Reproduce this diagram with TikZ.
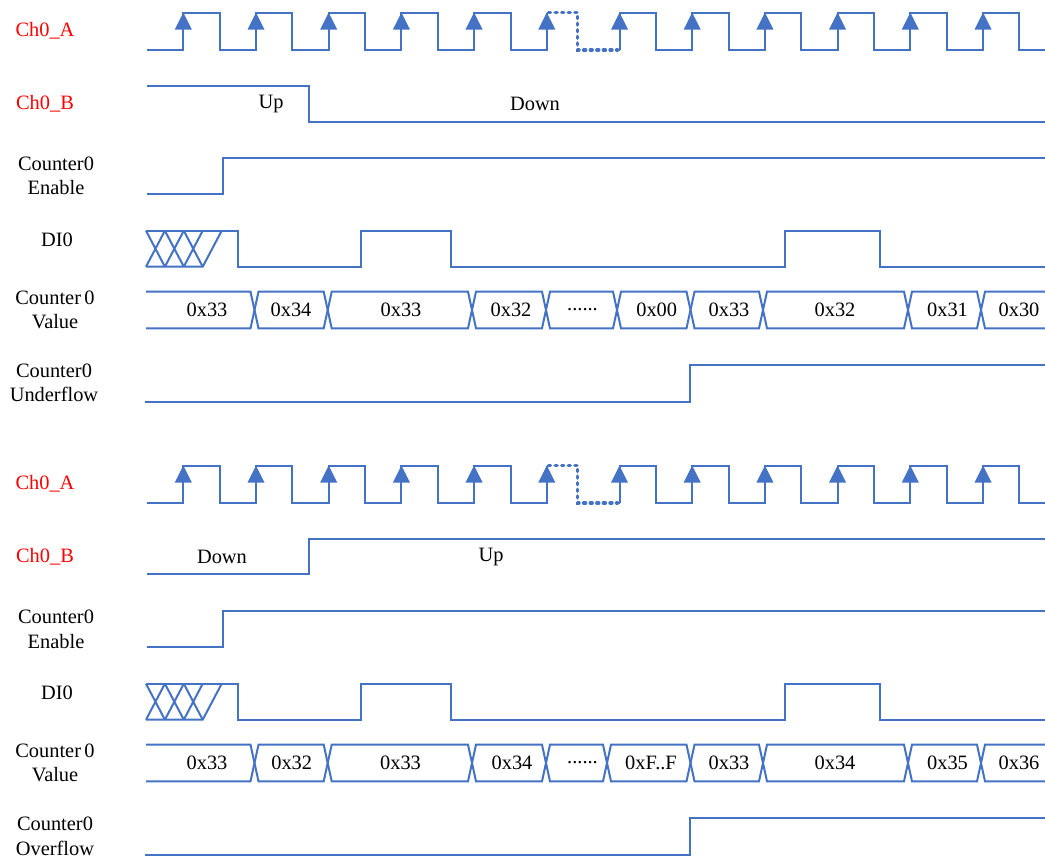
\documentclass[tikz,border=0pt]{standalone}
\usepackage{fontspec}
\setmainfont{Liberation Serif}
\definecolor{wave}{HTML}{4472C4}
\definecolor{chan}{HTML}{FF0000}

\begin{document}
\begin{tikzpicture}[
    x=0.5pt, y=-0.5pt,
    wire/.style={draw=wave, line width=1pt},
    ghost/.style={draw=wave, line width=1.7pt, dash pattern=on 1pt off 2.3pt, line cap=round},
    tick/.style={fill=wave},
    sig/.style={align=center, font=\fontsize{10.2}{12.3}\selectfont},
    red sig/.style={sig, text=chan},
    hex/.style={font=\fontsize{10.2}{12}\selectfont}
]
\useasboundingbox (0,0) rectangle (1045,859);

% waveforms shared by both panels
\foreach \dy/\cut in {0/617, 453/607} {
\begin{scope}[shift={(0,\dy)}]
  % Ch0_A
  \draw[wire] (147,50) foreach \k in {0,...,4} { -- (183.3+72.7*\k,50) -- (183.3+72.7*\k,12.5) -- (219.7+72.7*\k,12.5) -- (219.7+72.7*\k,50) } -- (546.8,50) -- (546.8,12.5);
  \draw[ghost] (548.5,12.5) -- (577.5,12.5) -- (577.5,50) -- (617.5,50);
  \draw[wire] (619.5,50) foreach \k in {6,...,11} { -- (183.3+72.7*\k,50) -- (183.3+72.7*\k,12.5) -- (219.7+72.7*\k,12.5) -- (219.7+72.7*\k,50) } -- (1045,50);
  \foreach \k in {0,...,11}
    \fill[tick] (183.3+72.7*\k,12.5) -- ++(-8.5,17) -- ++(17,0) -- cycle;
  % Counter0 Enable
  \draw[wire] (147,194.3) -- (223.3,194.3) -- (223.3,158.3) -- (1045,158.3);
  % DI0
  \draw[wire] (146,230.7) -- (238.3,230.7) -- (238.3,266.7) -- (361,266.7) -- (361,230.7) -- (451,230.7) -- (451,266.7) -- (784.5,266.7) -- (784.5,230.7) -- (879.5,230.7) -- (879.5,266.7) -- (1045,266.7);
  \draw[wire] (146,266.7) -- (202.7,266.7) -- (221.7,230.7);
  \foreach \x in {146,164.9,183.8}
    \draw[wire] (\x,230.7) -- (\x+18.9,266.7) (\x,266.7) -- (\x+18.9,230.7);
  % Counter0 Value
  \begin{scope}
    \clip (146,280) rectangle (1045,340);
    \foreach \a/\b in {130/254.5, 254.5/327.7, 327.7/472, 472/546, 546/\cut, \cut/690.5, 690.5/763, 763/908, 908/981, 981/1060}
      \draw[wire] (\a,310) -- (\a+4,291.7) -- (\b-4,291.7) -- (\b,310) -- (\b-4,328.3) -- (\a+4,328.3) -- cycle;
  \end{scope}
  % Underflow / Overflow
  \draw[wire] (145,401.7) -- (690,401.7) -- (690,365) -- (1045,365);
\end{scope}
}

% signal names
\foreach \dy/\p in {0/t, 453/b} {
  \node[red sig] (cha\p) at (45,31+\dy) {Ch0\_A};
  \node[red sig] (chb\p) at (45,104+\dy) {Ch0\_B};
  \node[sig] (en\p) at (56,176+\dy) {Counter0\\Enable};
  \node[sig] (di\p) at (57,240+\dy) {DI0};
  \node[sig] (val\p) at (55,310+\dy) {Counter\,0\\Value};
}

% upper panel: counting down
\draw[wire] (147,86) -- (309,86) -- (309,121.7) -- (1045,121.7);
\node[sig] (upt) at (271,104) {Up};
\node[sig] (downt) at (535,104) {Down};
\foreach \x/\t [count=\i] in {207/0x33, 291/0x34, 401/0x33, 511/0x32}
  \node[hex] (vt\i) at (\x,310) {\t};
\node[hex] (gapt) at (582.5,310) {......};
\foreach \x/\t [count=\i] in {656.7/0x00, 729/0x33, 835/0x32, 947.5/0x31, 1019/0x30}
  \node[hex] (wt\i) at (\x,310) {\t};
\node[sig] (uflow) at (54,383) {Counter0\\Underflow};

% lower panel: counting up
\draw[wire] (147,574) -- (309,574) -- (309,539) -- (1045,539);
\node[sig] (downb) at (222,557) {Down};
\node[sig] (upb) at (491,557) {Up};
\foreach \x/\t [count=\i] in {207/0x33, 291.7/0x32, 400.5/0x33, 512/0x34}
  \node[hex] (vb\i) at (\x,763) {\t};
\node[hex] (gapb) at (582.5,763) {......};
\foreach \x/\t [count=\i] in {651/{0xF..F}, 729/0x33, 835/0x34, 947.5/0x35, 1019/0x36}
  \node[hex] (wb\i) at (\x,763) {\t};
\node[sig] (oflow) at (55,836.5) {Counter0\\Overflow};

\end{tikzpicture}
\end{document}
